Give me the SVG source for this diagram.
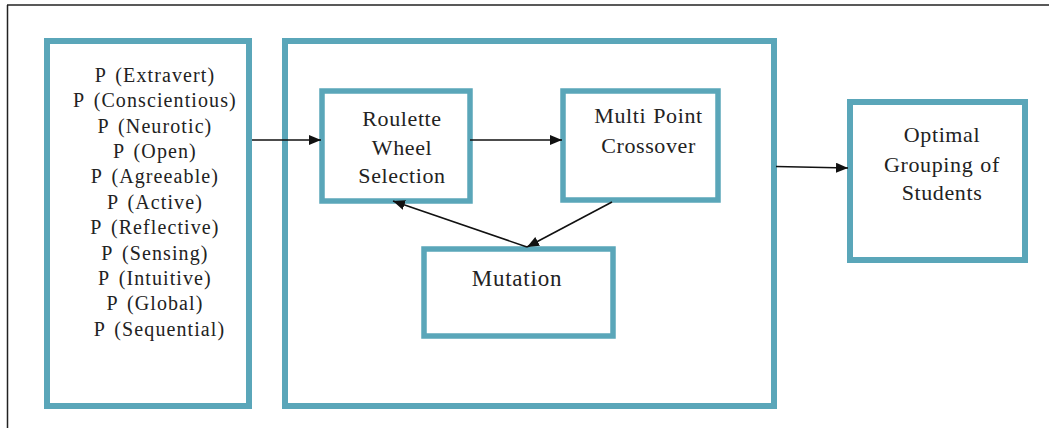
<svg xmlns="http://www.w3.org/2000/svg" width="1049" height="428" viewBox="0 0 1049 428">
<style>
.box{fill:none;stroke:#5aa6b9;stroke-width:6}
.inner{fill:none;stroke:#5aa6b9;stroke-width:5.5}
.t{font-family:'Liberation Serif','Times New Roman',serif;font-size:20px;fill:#222;text-anchor:middle;letter-spacing:1.1px;word-spacing:3px}
.b{font-size:22px;letter-spacing:0.6px;word-spacing:1px}
.m{font-size:23px;letter-spacing:0.8px}
.c{stroke:#111;stroke-width:1.6;fill:none}
</style>
<defs>
<marker id="ah" markerUnits="userSpaceOnUse" markerWidth="13" markerHeight="11" refX="12" refY="5" orient="auto">
<path d="M0,0 L12,5 L0,10 z" fill="#111"/>
</marker>
</defs>
<g id="frame">
<line x1="7.5" y1="5" x2="7.5" y2="428" stroke="#222" stroke-width="1.5"/>
<line x1="7" y1="5" x2="1049" y2="5" stroke="#222" stroke-width="1.5"/>
</g>
<g id="inputs">
<rect class="box" x="47" y="41" width="202" height="365"/>
<text class="t">
<tspan x="159.5" y="81.7">P (Extravert)</tspan>
<tspan x="159.5" y="107.1">P (Conscientious)</tspan>
<tspan x="159.5" y="132.5">P (Neurotic)</tspan>
<tspan x="159.5" y="157.9">P (Open)</tspan>
<tspan x="159.5" y="183.3">P (Agreeable)</tspan>
<tspan x="159.5" y="208.7">P (Active)</tspan>
<tspan x="159.5" y="234.1">P (Reflective)</tspan>
<tspan x="159.5" y="259.5">P (Sensing)</tspan>
<tspan x="159.5" y="284.9">P (Intuitive)</tspan>
<tspan x="159.5" y="310.3">P (Global)</tspan>
<tspan x="159.5" y="335.7">P (Sequential)</tspan>
</text>
</g>
<g id="ga">
<rect class="box" x="285" y="41" width="489" height="365"/>
</g>
<g id="roulette">
<rect class="inner" x="322" y="91" width="148" height="110"/>
<text class="t b"><tspan x="402" y="126">Roulette</tspan><tspan x="402" y="155">Wheel</tspan><tspan x="402" y="183">Selection</tspan></text>
</g>
<g id="crossover">
<rect class="inner" x="563" y="91" width="155" height="109"/>
<text class="t b"><tspan x="648.5" y="123">Multi Point</tspan><tspan x="648.5" y="152.5">Crossover</tspan></text>
</g>
<g id="mutation">
<rect class="inner" x="424" y="249" width="189" height="87"/>
<text class="t m" x="517" y="286">Mutation</text>
</g>
<g id="optimal">
<rect class="box" x="850" y="102" width="175" height="158"/>
<text class="t b"><tspan x="942" y="142">Optimal</tspan><tspan x="942" y="171.5">Grouping of</tspan><tspan x="942" y="200">Students</tspan></text>
</g>
<g id="connectors">
<line class="c" x1="252" y1="140" x2="321" y2="140" marker-end="url(#ah)"/>
<line class="c" x1="470" y1="140" x2="562" y2="140" marker-end="url(#ah)"/>
<line class="c" x1="612" y1="202" x2="527" y2="247" marker-end="url(#ah)"/>
<line class="c" x1="527" y1="247" x2="393" y2="201" marker-end="url(#ah)"/>
<line class="c" x1="776" y1="166.5" x2="848" y2="168" marker-end="url(#ah)"/>
</g>
</svg>
